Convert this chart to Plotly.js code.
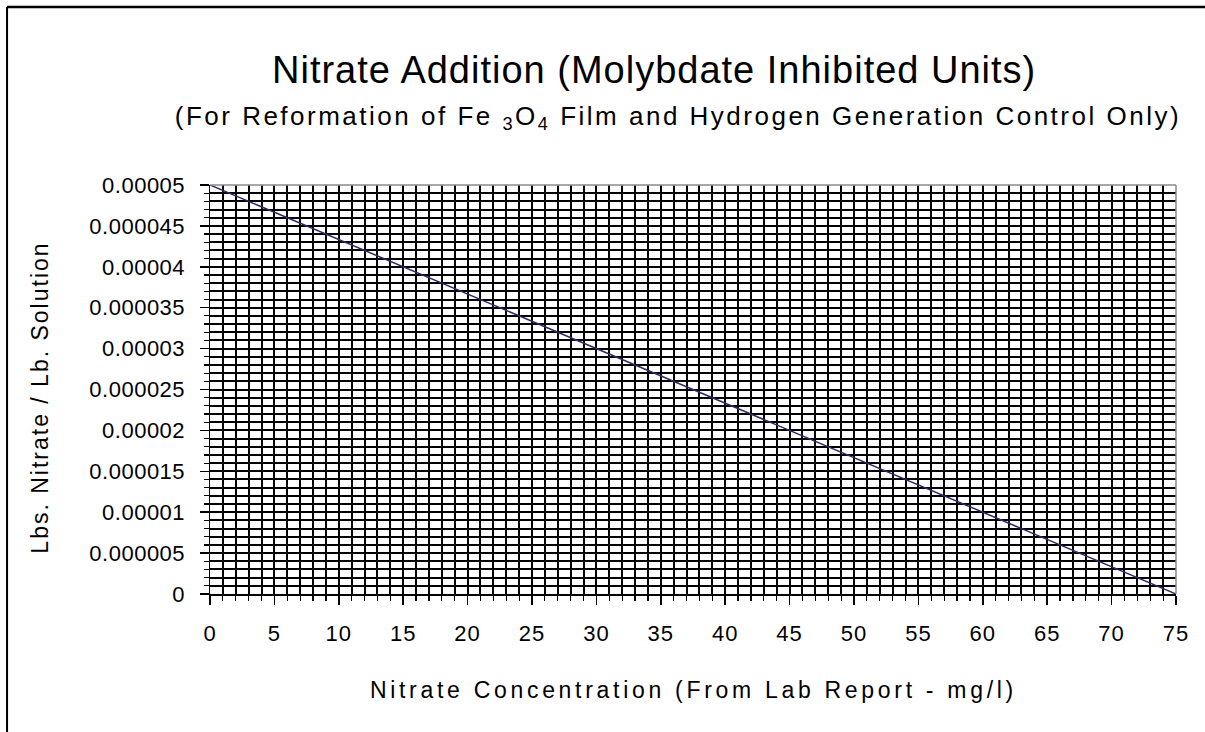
<!DOCTYPE html>
<html>
<head>
<meta charset="utf-8">
<script src="https://cdn.plot.ly/plotly-3.0.1.min.js"></script>
<style>
  html, body { margin: 0; padding: 0; background: #fff; overflow: hidden; }
  #wrap { position: relative; width: 1205px; height: 732px; }
  #chart { width: 1205px; height: 732px; }
  #cover { position: absolute; left: 1199px; top: 10px; width: 6px; height: 722px; background: #fff; }
  .xtick text { letter-spacing: 1px; }
  .ytick text { letter-spacing: 0.5px; }
  .annotation[data-index="0"] text { letter-spacing: 1px; }
  .annotation[data-index="1"] text { letter-spacing: 2.5px; }
  .annotation[data-index="2"] text { letter-spacing: 3.7px; }
  .annotation[data-index="3"] text { letter-spacing: 2px; }
</style>
</head>
<body>
<div id="wrap">
  <div id="chart"></div>
  <div id="cover"></div>
</div>
<script>
// Data
var concentration = [0, 15, 30, 45, 60, 75];
var lbsNitrate = [0.00005, 0.00004, 0.00003, 0.00002, 0.00001, 0];

var xTickVals = [0, 5, 10, 15, 20, 25, 30, 35, 40, 45, 50, 55, 60, 65, 70, 75];
var xTickText = ['0', '5', '10', '15', '20', '25', '30', '35', '40', '45', '50', '55', '60', '65', '70', '75'];
var yTickVals = [0, 0.000005, 0.00001, 0.000015, 0.00002, 0.000025, 0.00003, 0.000035, 0.00004, 0.000045, 0.00005];
var yTickText = ['0', '0.000005', '0.00001', '0.000015', '0.00002', '0.000025', '0.00003', '0.000035', '0.00004', '0.000045', '0.00005'];

var titleText = 'Nitrate Addition (Molybdate Inhibited Units)';
var subtitleText = '(For Reformation of Fe <sub>3</sub>O<sub>4</sub> Film and Hydrogen Generation Control Only)';
var xTitleText = 'Nitrate Concentration (From Lab Report - mg/l)';
var yTitleText = 'Lbs. Nitrate / Lb. Solution';

var FONT = '"Liberation Sans", Arial, Helvetica, sans-serif';

var trace = {
  x: concentration,
  y: lbsNitrate,
  type: 'scatter',
  mode: 'lines',
  line: { color: '#2e2a66', width: 1.5 },
  hoverinfo: 'x+y',
  showlegend: false
};

var GRID_W = 2;

var layout = {
  width: 1205,
  height: 732,
  autosize: false,
  paper_bgcolor: '#ffffff',
  plot_bgcolor: '#ffffff',
  margin: { l: 210, r: 29, t: 185, b: 138, pad: 0 },
  font: { family: FONT, color: '#000', size: 22 },
  showlegend: false,
  xaxis: {
    range: [0, 75],
    tickmode: 'array',
    tickvals: xTickVals,
    ticktext: xTickText,
    ticks: 'outside',
    ticklen: 9,
    tickwidth: 1.5,
    tickcolor: '#000',
    ticklabelstandoff: 10,
    tickfont: { family: FONT, size: 22, color: '#000' },
    showgrid: true,
    gridcolor: '#000',
    gridwidth: GRID_W,
    showline: true,
    linecolor: '#000',
    linewidth: 1.5,
    zeroline: false,
    fixedrange: true,
    minor: {
      tickmode: 'linear',
      tick0: 0,
      dtick: 1,
      ticks: 'outside',
      ticklen: 5,
      tickwidth: 1.2,
      tickcolor: '#000',
      showgrid: true,
      gridcolor: '#000',
      gridwidth: GRID_W
    }
  },
  yaxis: {
    range: [0, 0.00005],
    tickmode: 'array',
    tickvals: yTickVals,
    ticktext: yTickText,
    ticks: 'outside',
    ticklen: 9,
    tickwidth: 1.5,
    tickcolor: '#000',
    ticklabelstandoff: 10,
    tickfont: { family: FONT, size: 22, color: '#000' },
    showgrid: true,
    gridcolor: '#000',
    gridwidth: GRID_W,
    showline: true,
    linecolor: '#000',
    linewidth: 1.5,
    zeroline: false,
    fixedrange: true,
    minor: {
      tickmode: 'linear',
      tick0: 0,
      dtick: 0.000001,
      ticks: 'outside',
      ticklen: 5,
      tickwidth: 1.2,
      tickcolor: '#000',
      showgrid: true,
      gridcolor: '#000',
      gridwidth: GRID_W
    }
  },
  shapes: [
    // plot-area border (grey, top and right)
    { type: 'line', xref: 'paper', yref: 'paper', x0: 0, x1: 1, y0: 1, y1: 1,
      line: { color: '#8a8a8a', width: 1.5 }, layer: 'above' },
    { type: 'line', xref: 'paper', yref: 'paper', x0: 1, x1: 1, y0: 0, y1: 1,
      line: { color: '#8a8a8a', width: 1.5 }, layer: 'above' },
    // chart frame (top and left edges)
    { type: 'line', xref: 'paper', yref: 'paper', x0: -0.2101, x1: 1.05, y0: 1.4352, y1: 1.4352,
      line: { color: '#000', width: 2.5 }, layer: 'above' },
    { type: 'line', xref: 'paper', yref: 'paper', x0: -0.2101, x1: -0.2101, y0: -0.36, y1: 1.4352,
      line: { color: '#000', width: 2 }, layer: 'above' }
  ],
  annotations: [
    { text: titleText, xref: 'paper', yref: 'paper', x: 0.4596, y: 1.281,
      xanchor: 'center', yanchor: 'middle', showarrow: false,
      font: { family: FONT, size: 38, color: '#000' } },
    { text: subtitleText, xref: 'paper', yref: 'paper', x: 0.4845, y: 1.166,
      xanchor: 'center', yanchor: 'middle', showarrow: false,
      font: { family: FONT, size: 26, color: '#000' } },
    { text: xTitleText, xref: 'paper', yref: 'paper', x: 0.5, y: -0.2347,
      xanchor: 'center', yanchor: 'middle', showarrow: false,
      font: { family: FONT, size: 23, color: '#000' } },
    { text: yTitleText, xref: 'paper', yref: 'paper', x: -0.176, y: 0.48,
      xanchor: 'center', yanchor: 'middle', showarrow: false, textangle: -90,
      font: { family: FONT, size: 23, color: '#000' } }
  ]
};

Plotly.newPlot('chart', [trace], layout, { displayModeBar: false, staticPlot: true });
</script>
</body>
</html>
